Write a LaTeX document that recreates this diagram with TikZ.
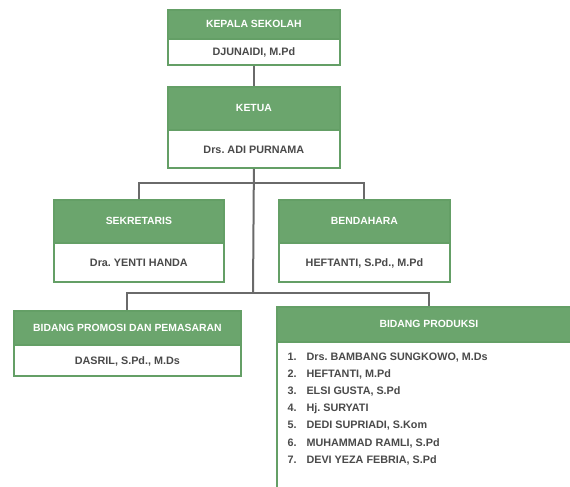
\documentclass[tikz,border=0pt]{standalone}
\usepackage{fontspec}
\setmainfont{Liberation Sans}
\definecolor{hdgreen}{HTML}{6BA56D}
\definecolor{bdgreen}{HTML}{649F66}
\definecolor{lngray}{HTML}{6A6A6A}
\definecolor{txgray}{HTML}{4A4A4A}
\tikzset{
  boxframe/.style={draw=bdgreen, line width=1.8pt, fill=white, inner sep=0pt},
  boxhead/.style={fill=hdgreen, draw=bdgreen, line width=1.8pt, inner sep=0pt},
  headtext/.style={text=white, font=\frenchspacing\bfseries\fontsize{10.4}{12}\selectfont},
  bodytext/.style={text=txgray, font=\frenchspacing\bfseries\fontsize{10.8}{12}\selectfont},
  conn/.style={draw=lngray, line width=2pt},
}
% \orgbox{name}{x}{y}{w}{h}{header h}{title}{person}
\newcommand\orgbox[8]{%
  \node[boxframe, anchor=north west, minimum width=#4, minimum height=#5] (#1) at (#2,#3) {};
  \node[boxhead, anchor=north west, minimum width=#4, minimum height=#6] (#1h) at (#2,#3) {};
  \node[headtext] (#1t) at (#1h.center) {#7};
  \path (#1h.south) -- (#1.south) coordinate[pos=0.5] (#1m);
  \node[bodytext] (#1p) at (#1m) {#8};
}
\begin{document}
\begin{tikzpicture}[x=1pt,y=-1pt]
\useasboundingbox (0,0) rectangle (570,487);
\clip (0,0) rectangle (570,487);
\fill[white] (0,0) rectangle (570,487);
\coordinate (j1) at (253,183);
\coordinate (j2) at (253,293);
\orgbox{kep}{167}{9}{172}{55}{29}{KEPALA SEKOLAH}{DJUNAIDI, M.Pd}
\orgbox{ket}{167}{86}{172}{81}{43}{KETUA}{Drs. ADI PURNAMA}
\orgbox{sek}{53}{199}{170}{82}{43}{SEKRETARIS}{Dra. YENTI HANDA}
\orgbox{ben}{278}{199}{171}{82}{43}{BENDAHARA}{HEFTANTI, S.Pd., M.Pd}
\orgbox{pro}{13}{310}{227}{65}{34}{BIDANG PROMOSI DAN PEMASARAN}{DASRIL, S.Pd., M.Ds}
% produksi box (cut off at right and bottom)
\node[boxframe, anchor=north west, minimum width=304, minimum height=200] (prd) at (276,306) {};
\node[boxhead, anchor=north west, minimum width=304, minimum height=35] (prdh) at (276,306) {};
\node[headtext] (prdt) at (prdh.center) {BIDANG PRODUKSI};
\foreach \i/\t [count=\k] in {1/{Drs. BAMBANG SUNGKOWO, M.Ds},2/{HEFTANTI, M.Pd},3/{ELSI GUSTA, S.Pd},4/{Hj. SURYATI},5/{DEDI SUPRIADI, S.Kom},6/{MUHAMMAD RAMLI, S.Pd},7/{DEVI YEZA FEBRIA, S.Pd}}{
  \node[bodytext, anchor=base west] (n\k) at (284,{360+17.2*(\k-1)}) {\i.};
  \node[bodytext, anchor=base west] (l\k) at (303,{360+17.2*(\k-1)}) {\t};
}
\draw[conn] (kep.south) -- (ket.north);
\draw[conn] (ket.south) -- (j2);
\draw[conn] (sek.north) |- (j1) -| (ben.north);
\draw[conn] (pro.north) |- (j2) -| (prd.north);
\end{tikzpicture}
\end{document}
